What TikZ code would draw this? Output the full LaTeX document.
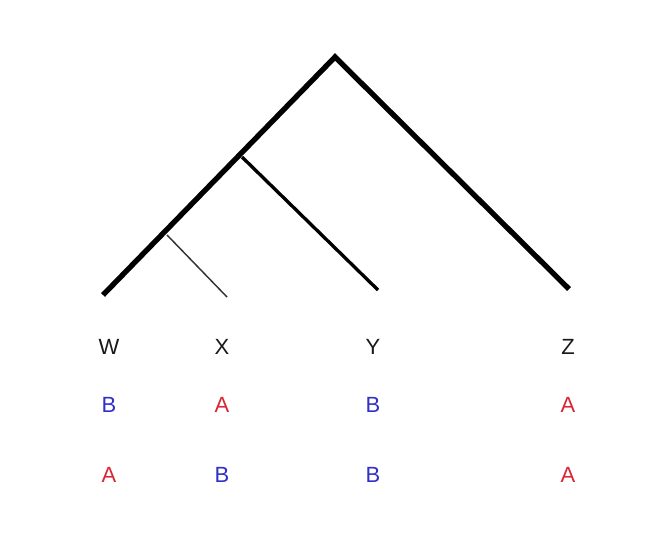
\documentclass[tikz,border=0pt]{standalone}
\usepackage{fontspec}
\setmainfont{Liberation Sans}
\usepackage{tikz}
\usetikzlibrary{positioning}

\definecolor{stateA}{RGB}{218,38,52}
\definecolor{stateB}{RGB}{48,48,200}

\tikzset{
  taxon/.style={font=\fontsize{16.5}{19}\selectfont, text=black!90, inner sep=0pt},
  charA/.style={taxon, text=stateA},
  charB/.style={taxon, text=stateB},
}

\begin{document}
\begin{tikzpicture}[x=0.75pt, y=-0.75pt]
  \useasboundingbox (0,0) rectangle (648,553);
  % === Tree: internal nodes and leaf tips ===
  \coordinate (root) at (335,57);
  \coordinate (nWXY) at (242,157);
  \coordinate (nWX) at (167,235);
  \coordinate (tipW) at (103,295);
  \coordinate (tipX) at (227,297);
  \coordinate (tipY) at (378,290);
  \coordinate (tipZ) at (569,289);
  % Branches
  \draw[line width=4pt, miter limit=20] (tipW) -- (root) -- (tipZ);
  \draw[line width=2.5pt] (nWXY) -- (tipY);
  \draw[line width=1.1pt, black!80] (nWX) -- (tipX);

  % === Taxon labels ===
  \node[taxon] (W) at (109,347) {W};
  \node[taxon] (X) at (222,347) {X};
  \node[taxon] (Y) at (373,347) {Y};
  \node[taxon] (Z) at (568,347) {Z};

  % === Character states: first / second character ===
  \foreach \t/\a/\b in {W/B/A, X/A/B, Y/B/B, Z/A/A} {
    \path (\t) ++(0,58) node[char\a] (\t1) {\a};
    \path (\t) ++(0,128) node[char\b] (\t2) {\b};
  }
\end{tikzpicture}
\end{document}
